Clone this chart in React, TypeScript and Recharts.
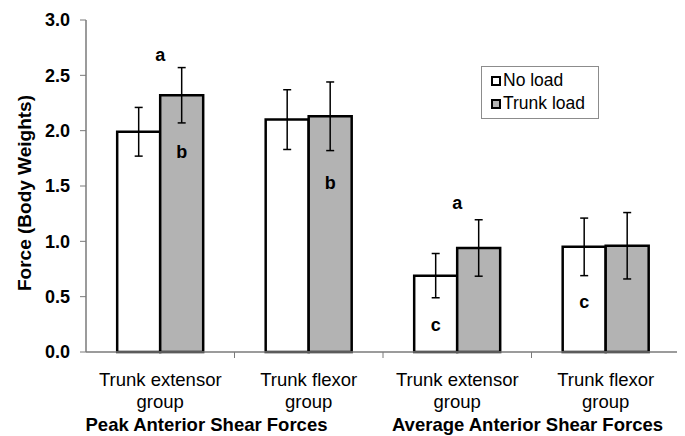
import React from "react";
import {
  BarChart,
  Bar,
  XAxis,
  YAxis,
  ErrorBar,
  LabelList,
  Legend,
} from "recharts";

const FONT = '"Liberation Sans", Arial, Helvetica, sans-serif';

// ---- data ----
const categories = [
  "Trunk extensor group",
  "Trunk flexor group",
  "Trunk extensor group",
  "Trunk flexor group",
];
const catLine1 = ["Trunk extensor", "Trunk flexor", "Trunk extensor", "Trunk flexor"];
const catLine2 = ["group", "group", "group", "group"];
const groupTitles = ["Peak Anterior Shear Forces", "", "Average Anterior Shear Forces", ""];

const noLoad = [1.99, 2.1, 0.69, 0.95];
const noLoadErr = [0.22, 0.27, 0.2, 0.26];
const trunkLoad = [2.32, 2.13, 0.94, 0.96];
const trunkLoadErr = [0.25, 0.31, 0.255, 0.3];

// significance letters and the value (height) at which they are placed
const noLoadLetters = ["", "", "c", "c"];
const noLoadLetterAt = [0, 0, 0.24, 0.45];
const trunkLetters = ["b", "b", "", ""];
const trunkLetterAt = [1.81, 1.53, 0, 0];
const pairLetters = ["a", "", "a", ""];
const pairLetterAt = [2.68, 0, 1.35, 0];

const yTicks = [0, 0.5, 1, 1.5, 2, 2.5, 3];

const data = categories.map((cat, i) => ({
  cat,
  noLoad: noLoad[i],
  noLoadErr: noLoadErr[i],
  trunkLoad: trunkLoad[i],
  trunkLoadErr: trunkLoadErr[i],
}));

const AXIS_GRAY = "#7a7a7a";
const BAR_GRAY = "#b3b3b3";

function CatTick(props: any) {
  const { x, y, payload } = props;
  const i = payload.index ?? props.index ?? 0;
  const half = payload.offset ?? 0;
  const axisY = y - 8;
  const titleShift = i === 0 ? -28 : -4;
  return (
    <g>
      {half > 0 && i < categories.length - 1 ? (
        <line
          x1={x + half}
          x2={x + half}
          y1={axisY}
          y2={axisY + 6}
          stroke={AXIS_GRAY}
          strokeWidth={1}
        />
      ) : null}
      <text x={x} y={y + 26} textAnchor="middle" fontSize={18.5} fontFamily={FONT} fill="#000">
        {catLine1[i]}
      </text>
      <text x={x} y={y + 48} textAnchor="middle" fontSize={18.5} fontFamily={FONT} fill="#000">
        {catLine2[i]}
      </text>
      {groupTitles[i] ? (
        <text
          x={x + half + titleShift}
          y={y + 71}
          textAnchor="middle"
          fontSize={18.5}
          fontWeight="bold"
          fontFamily={FONT}
          fill="#000"
        >
          {groupTitles[i]}
        </text>
      ) : null}
    </g>
  );
}

function letterStyle() {
  return {
    fontSize: 18,
    fontWeight: "bold" as const,
    fontFamily: FONT,
    fill: "#000",
  };
}

function NoLoadLetters(p: any) {
  const { x, y, width, height, index, value } = p;
  const letter = noLoadLetters[index];
  if (!letter) return null;
  const base = y + height;
  const ppu = height / value;
  return (
    <text
      x={x + width / 2}
      y={base - noLoadLetterAt[index] * ppu}
      textAnchor="middle"
      dominantBaseline="central"
      {...letterStyle()}
    >
      {letter}
    </text>
  );
}

function TrunkLetters(p: any) {
  const { x, y, width, height, index, value } = p;
  const base = y + height;
  const ppu = height / value;
  const out: any[] = [];
  if (trunkLetters[index]) {
    out.push(
      <text
        key="b"
        x={x + width / 2}
        y={base - trunkLetterAt[index] * ppu}
        textAnchor="middle"
        dominantBaseline="central"
        {...letterStyle()}
      >
        {trunkLetters[index]}
      </text>
    );
  }
  if (pairLetters[index]) {
    out.push(
      <text
        key="a"
        x={x}
        y={base - pairLetterAt[index] * ppu}
        textAnchor="middle"
        dominantBaseline="central"
        {...letterStyle()}
      >
        {pairLetters[index]}
      </text>
    );
  }
  return <g>{out}</g>;
}

function LegendBox(props: any) {
  const payload = props.payload || [];
  return (
    <div
      style={{
        width: 116,
        height: 49,
        border: "1px solid #8c8c8c",
        background: "#fff",
        fontFamily: FONT,
        fontSize: 17.5,
        color: "#000",
        boxSizing: "content-box",
        paddingTop: 2,
      }}
    >
      {payload.map((item: any, k: number) => (
        <div
          key={k}
          style={{ display: "flex", alignItems: "center", height: 23, paddingLeft: 9 }}
        >
          <span
            style={{
              display: "inline-block",
              width: 6,
              height: 6,
              border: "2.5px solid #000",
              background: item.color,
              marginRight: 2,
            }}
          />
          <span>{item.value}</span>
        </div>
      ))}
    </div>
  );
}

function YLabel() {
  return (
    <text
      x={16}
      y={185}
      transform="rotate(-90, 16, 185)"
      textAnchor="middle"
      dominantBaseline="central"
      fontSize={19}
      fontWeight="bold"
      fontFamily={FONT}
      fill="#000"
    >
      Force (Body Weights)
    </text>
  );
}

export default function App() {
  return (
    <div style={{ width: 677, height: 428, background: "#fff" }}>
      <BarChart
        width={677}
        height={428}
        data={data}
        margin={{ top: 12, right: 0, left: 0, bottom: 0 }}
        barCategoryGap="21%"
        barGap={0}
      >
        <XAxis
          dataKey="cat"
          height={84}
          tickLine={false}
          tickSize={6}
          tickMargin={2}
          axisLine={{ stroke: AXIS_GRAY, strokeWidth: 1.5 }}
          tick={<CatTick />}
          interval={0}
        />
        <XAxis
          xAxisId="top"
          orientation="top"
          dataKey="cat"
          height={0}
          tick={false}
          tickLine={false}
          axisLine={{ stroke: AXIS_GRAY, strokeWidth: 1.5 }}
        />
        <YAxis
          width={78}
          domain={[0, 3]}
          ticks={yTicks}
          interval={0}
          tickFormatter={(v: number) => v.toFixed(1)}
          tickSize={6}
          tickMargin={10}
          tickLine={{ stroke: AXIS_GRAY }}
          axisLine={{ stroke: AXIS_GRAY, strokeWidth: 1.5 }}
          tick={{ fill: "#000", fontSize: 18, fontWeight: "bold", fontFamily: FONT }}
          label={<YLabel />}
        />
        <YAxis
          yAxisId="right"
          orientation="right"
          width={5}
          domain={[0, 3]}
          tick={false}
          tickLine={false}
          axisLine={{ stroke: AXIS_GRAY, strokeWidth: 2 }}
        />
        <Legend
          layout="horizontal"
          verticalAlign="middle"
          align="center"
          content={<LegendBox />}
          wrapperStyle={{ position: "absolute", left: 473, top: 58, width: 118, height: 51 }}
        />
        <Bar
          dataKey="noLoad"
          name="No load"
          fill="#ffffff"
          stroke="#000"
          strokeWidth={2.5}
          isAnimationActive={false}
        >
          <ErrorBar dataKey="noLoadErr" width={4} stroke="#000" strokeWidth={1.5} direction="y" />
          <LabelList dataKey="noLoad" content={<NoLoadLetters />} />
        </Bar>
        <Bar
          dataKey="trunkLoad"
          name="Trunk load"
          fill={BAR_GRAY}
          stroke="#000"
          strokeWidth={2.5}
          isAnimationActive={false}
        >
          <ErrorBar dataKey="trunkLoadErr" width={4} stroke="#000" strokeWidth={1.5} direction="y" />
          <LabelList dataKey="trunkLoad" content={<TrunkLetters />} />
        </Bar>
      </BarChart>
    </div>
  );
}
